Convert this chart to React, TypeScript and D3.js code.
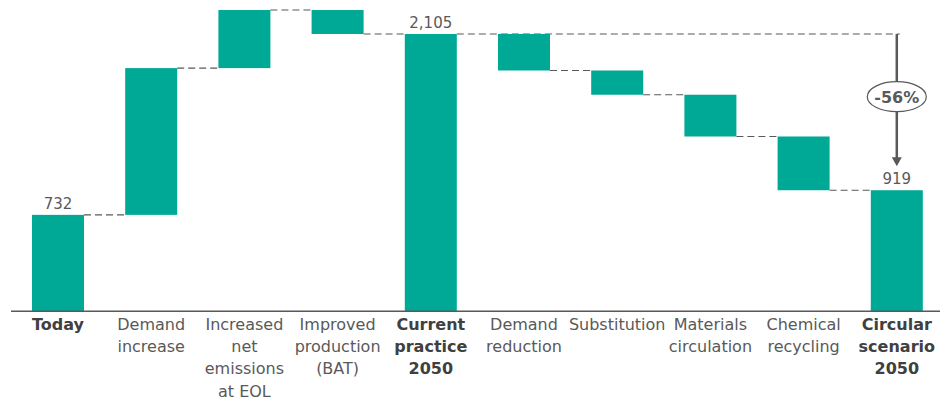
import React from "react";
import * as d3 from "d3";

const categories = [
  "Today",
  "Demand increase",
  "Increased net emissions at EOL",
  "Improved production (BAT)",
  "Current practice 2050",
  "Demand reduction",
  "Substitution",
  "Materials circulation",
  "Chemical recycling",
  "Circular scenario 2050",
];
const labelLines = [
  ["Today"],
  ["Demand", "increase"],
  ["Increased", "net", "emissions", "at EOL"],
  ["Improved", "production", "(BAT)"],
  ["Current", "practice", "2050"],
  ["Demand", "reduction"],
  ["Substitution"],
  ["Materials", "circulation"],
  ["Chemical", "recycling"],
  ["Circular", "scenario", "2050"],
];
const kinds = ["total", "delta", "delta", "delta", "total", "delta", "delta", "delta", "delta", "total"];
const values = [732, 1114, 441, -182, 2105, -277, -184, -317, -408, 919];
const valueLabels = ["732", "", "", "", "2,105", "", "", "", "", "919"];
const changeLabel = "-56%";

const W = 940;
const H = 401;
const TEAL = "#00a896";
const GRAY = "#595959";
const FONT = "'DejaVu Sans', sans-serif";

export default function App() {
  const x = d3
    .scaleBand<string>()
    .domain(categories)
    .range([11.4, 943.4])
    .paddingInner(0.442)
    .paddingOuter(0.221);
  const y = d3.scaleLinear().domain([0, 2105]).range([311.3, 34]);

  let running = 0;
  const bars = categories.map((c, i) => {
    let start: number, end: number;
    if (kinds[i] === "total") {
      start = 0;
      end = values[i];
      running = values[i];
    } else {
      start = running;
      end = running + values[i];
      running = end;
    }
    return { c, i, start, end };
  });

  const bw = x.bandwidth();
  const lastCenter = (x(categories[9]) as number) + bw / 2;
  const currentIdx = 4;

  const connectors = bars.slice(0, -1).map((b, i) => {
    const x1 = (x(b.c) as number) + bw;
    const x2 = i === currentIdx ? lastCenter + 3 : (x(categories[i + 1]) as number);
    return { x1, x2, yv: y(b.end) };
  });

  const arrowTop = y(values[4]);
  const arrowBottom = y(values[9]) - 24;
  const ellY = 96.7;

  return (
    <svg
      width={W}
      height={H}
      style={{ position: "absolute", left: 0, top: 0, background: "#fff" }}
    >
      {connectors.map((c, i) => (
        <line
          key={"c" + i}
          x1={c.x1}
          x2={c.x2}
          y1={c.yv}
          y2={c.yv}
          stroke={GRAY}
          strokeWidth={1.2}
          strokeDasharray="7,4"
        />
      ))}
      {bars.map((b) => (
        <rect
          key={b.c}
          x={x(b.c)}
          width={bw}
          y={y(Math.max(b.start, b.end))}
          height={Math.abs(y(b.start) - y(b.end))}
          fill={TEAL}
        />
      ))}
      <line x1={11} x2={940} y1={311.3} y2={311.3} stroke={GRAY} strokeWidth={1.5} />
      {bars.map((b) =>
        valueLabels[b.i] ? (
          <text
            key={"v" + b.i}
            x={(x(b.c) as number) + bw / 2}
            y={y(b.end) - 6}
            textAnchor="middle"
            fontFamily={FONT}
            fontSize={15}
            fill={GRAY}
          >
            {valueLabels[b.i]}
          </text>
        ) : null
      )}
      {labelLines.map((lines, i) => (
        <text
          key={"l" + i}
          x={(x(categories[i]) as number) + bw / 2}
          y={330}
          textAnchor="middle"
          fontFamily={FONT}
          fontSize={16}
          fontWeight={kinds[i] === "total" ? "bold" : "normal"}
          fill={kinds[i] === "total" ? "#404040" : GRAY}
        >
          {lines.map((ln, j) => (
            <tspan key={j} x={(x(categories[i]) as number) + bw / 2} dy={j === 0 ? 0 : 22.2}>
              {ln}
            </tspan>
          ))}
        </text>
      ))}
      <line x1={lastCenter} x2={lastCenter} y1={arrowTop} y2={arrowBottom - 8} stroke={GRAY} strokeWidth={2.5} />
      <path
        d={`M${lastCenter - 5},${arrowBottom - 9} L${lastCenter + 5},${arrowBottom - 9} L${lastCenter},${arrowBottom} Z`}
        fill={GRAY}
      />
      <ellipse cx={lastCenter} cy={ellY} rx={29.5} ry={15} fill="#fff" stroke={GRAY} strokeWidth={1.2} />
      <text
        x={lastCenter}
        y={ellY + 6}
        textAnchor="middle"
        fontFamily={FONT}
        fontSize={16}
        fontWeight="bold"
        fill={GRAY}
      >
        {changeLabel}
      </text>
    </svg>
  );
}
